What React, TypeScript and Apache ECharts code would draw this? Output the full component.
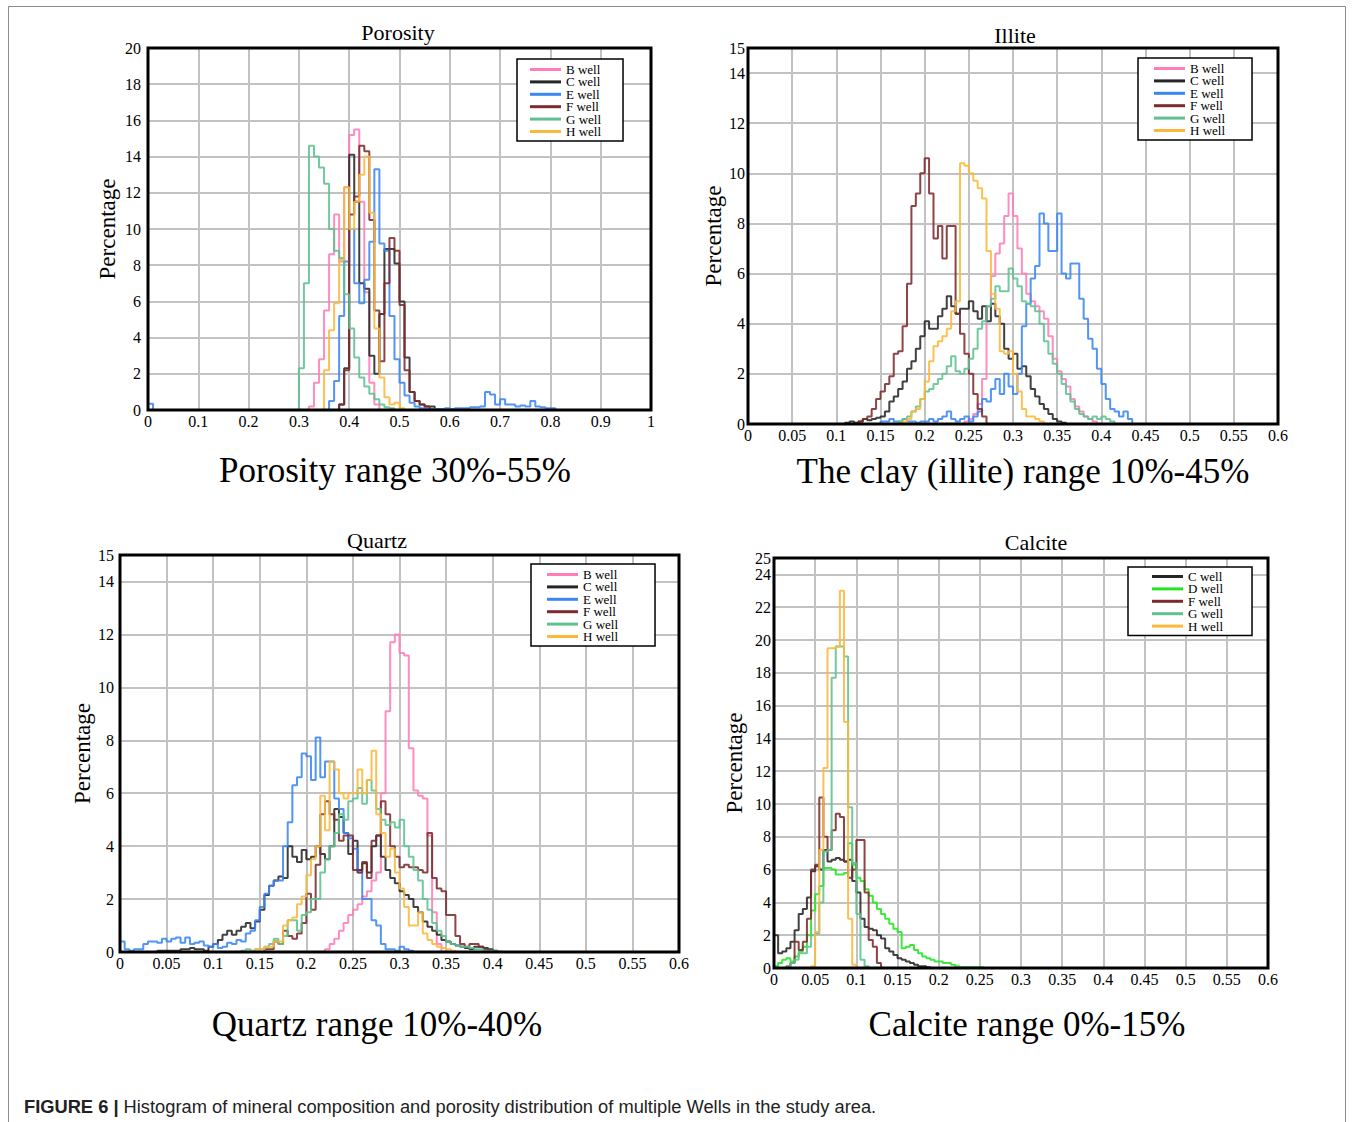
import React, { useEffect, useRef } from "react";
import * as echarts from "echarts";

const SERIF = "'Liberation Serif', 'Times New Roman', serif";
const SANS = "'Liberation Sans', Arial, sans-serif";
const GRID_LINE = "#c2c2c2";

// ---------- colours per well ----------
const wellColors: Record<string, string> = {
  "B well": "#ff7db9",
  "C well": "#262626",
  "D well": "#22e622",
  "E well": "#3a86f2",
  "F well": "#7c2a2c",
  "G well": "#5fc191",
  "H well": "#fcb83a",
};

const legendWells = ["B well", "C well", "E well", "F well", "G well", "H well"];
const calciteLegendWells = ["C well", "D well", "F well", "G well", "H well"];

// ---------- axis ticks ----------
const porosityXMax = 1;
const porosityXStep = 0.1;
const porosityYMax = 20;
const mineralXMax = 0.6;
const mineralXStep = 0.05;
const illiteYMax = 15;
const quartzYMax = 15;
const calciteYMax = 25;
const yStep = 2;

// ---------- Porosity histograms (bin 0.01) ----------
const porosityBin = 0.01;
const porosityBStart = 0.32;
const porosityB = [0.2, 1.5, 2.8, 5.5, 8.6, 10.8, 8.2, 12.3, 15.2, 15.5, 11.5, 6.5, 1.5, 0.3];
const porosityCStart = 0.38;
const porosityC = [0.3, 2.3, 14.1, 11.5, 7.0, 6.7, 3.0, 2.0, 5.3, 8.9, 8.9, 8.1, 6.0, 2.9, 1.0, 0.5, 0.3, 0.2, 0.2];
const porosityEStart = 0.36;
const porosityE = [
  0.5, 1.6, 5.2, 8.2, 10.0, 7.0, 5.9, 7.2, 9.3, 13.3, 9.2, 8.8, 5.2, 2.8, 1.5, 0.8, 0.4, 0.2,
  0.1, 0.05, 0.05, 0.05, 0.05, 0.1, 0.05, 0.1, 0.1, 0.1, 0.15, 0.15, 0.2, 1.0, 0.85, 0.3, 0.6,
  0.3, 0.3, 0.2, 0.25, 0.2, 0.5, 0.2, 0.15, 0.1, 0.1,
];
const porosityE0Start = 0;
const porosityE0 = [0.35];
const porosityFStart = 0.38;
const porosityF = [0.3, 2.2, 10.8, 11.8, 14.6, 14.3, 10.5, 5.5, 2.7, 7.0, 9.5, 8.8, 5.8, 2.2, 1.0, 0.5, 0.3, 0.2];
const porosityGStart = 0.3;
const porosityG = [2.3, 7.0, 14.6, 14.0, 13.4, 12.5, 10.0, 8.8, 8.4, 6.4, 4.5, 2.9, 1.8, 1.3, 0.9, 0.6, 0.3, 0.15, 0.1];
const porosityHStart = 0.35;
const porosityH = [2.2, 4.4, 5.9, 8.3, 12.3, 10.0, 11.5, 13.0, 14.0, 10.9, 4.5, 1.8, 0.7, 0.3, 0.4, 0.1];

// ---------- Illite histograms (bin 0.005) ----------
const mineralBin = 0.005;
const illiteBStart = 0.245;
const illiteB = [
  0.1, 0.2, 0.4, 0.8, 1.8, 4.7, 5.9, 6.8, 7.2, 8.3, 9.2, 8.3, 7.0, 6.0, 5.2, 4.9, 4.7, 4.5, 4.2,
  3.5, 2.6, 2.1, 1.8, 1.5, 1.0, 0.7, 0.5, 0.3, 0.2, 0.1,
];
const illiteCStart = 0.11;
const illiteC = [
  0.05, 0.1, 0.05, 0.1, 0.2, 0.15, 0.2, 0.25, 0.3, 0.5, 0.9, 1.1, 1.4, 1.7, 2.2, 2.5, 3.0, 3.5,
  4.1, 3.8, 3.8, 4.3, 4.6, 5.1, 4.7, 4.4, 4.6, 4.6, 4.9, 4.5, 4.2, 4.7, 4.1, 4.8, 4.3, 4.0, 3.0,
  2.6, 2.8, 2.2, 2.3, 1.9, 1.4, 1.1, 0.8, 0.6, 0.4, 0.2, 0.1, 0.05,
];
const illiteEStart = 0.15;
const illiteE = [
  0.1, 0.1, 0.2, 0.1, 0.1, 0.2, 0.1, 0.1, 0.05, 0.1, 0.1, 0.2, 0.1, 0.2, 0.3, 0.5, 0.2, 0.1, 0.2,
  0.3, 0.1, 0.3, 0.5, 1.0, 0.9, 1.4, 1.8, 1.2, 2.0, 1.5, 1.2, 2.0, 3.9, 4.8, 5.8, 6.3, 8.4, 8.0,
  6.9, 6.9, 8.4, 6.0, 5.8, 6.4, 6.4, 5.0, 4.2, 3.4, 3.0, 2.2, 1.6, 1.0, 0.6, 0.5, 0.3, 0.5, 0.2,
];
const illiteFStart = 0.125;
const illiteF = [
  0.1, 0.2, 0.3, 0.6, 1.0, 1.3, 1.6, 1.9, 2.8, 2.9, 3.9, 5.6, 8.7, 9.2, 10.0, 10.6, 9.2, 7.4,
  7.9, 6.6, 7.9, 7.9, 4.4, 3.6, 2.8, 2.0, 1.2, 0.6, 0.3,
];
const illiteGStart = 0.17;
const illiteG = [
  0.1, 0.2, 0.3, 0.5, 0.7, 1.0, 1.3, 1.4, 1.6, 1.8, 2.0, 2.3, 2.7, 2.1, 2.0, 2.2, 2.6, 3.0, 3.8,
  4.1, 4.7, 5.0, 5.5, 5.3, 5.3, 6.2, 5.8, 5.5, 4.9, 4.8, 4.7, 4.5, 4.0, 3.3, 2.8, 2.4, 2.0, 1.6,
  1.2, 0.9, 0.6, 0.4, 0.3, 0.2, 0.3, 0.2, 0.3, 0.2, 0.1,
];
const illiteHStart = 0.175;
const illiteH = [
  0.1, 0.2, 0.5, 0.6, 1.0, 1.7, 2.5, 3.1, 3.3, 3.5, 3.8, 4.5, 4.9, 10.4, 10.3, 10.0, 9.7, 9.4,
  9.0, 6.9, 5.2, 4.6, 2.9, 2.8, 2.9, 2.0, 1.3, 0.6, 0.3, 0.3, 0.2, 0.1,
];

// ---------- Quartz histograms (bin 0.005) ----------
const quartzBStart = 0.22;
const quartzB = [
  0.1, 0.3, 0.5, 0.8, 1.1, 1.4, 1.6, 1.8, 2.1, 2.3, 2.7, 3.0, 6.0, 9.1, 11.7, 12.0, 11.3, 11.2,
  7.7, 6.1, 5.9, 5.8, 4.4, 1.5, 0.3,
];
const quartzCStart = 0.04;
const quartzC = [
  0.05, 0.05, 0.05, 0.05, 0.05, 0.1, 0.1, 0.15, 0.1, 0.1, 0.05, 0.2, 0.3, 0.45, 0.65, 0.8, 0.65,
  0.8, 0.95, 1.1, 0.9, 1.15, 1.6, 2.15, 2.5, 2.7, 2.85, 2.8, 4.0, 3.6, 3.4, 3.85, 3.5, 3.6, 4.0,
  3.7, 3.5, 4.0, 5.4, 5.1, 4.5, 3.7, 4.2, 3.1, 3.35, 3.0, 4.0, 4.4, 3.6, 3.1, 2.8, 2.6, 2.3, 2.15,
  2.0, 1.7, 1.5, 1.15, 0.95, 0.8, 0.65, 0.45, 0.4, 0.3, 0.25, 0.2, 0.15, 0.1, 0.2, 0.2, 0.15, 0.1,
  0.05,
];
const quartzEStart = 0;
const quartzE = [
  0.4, 0.1, 0.05, 0.1, 0.1, 0.3, 0.4, 0.4, 0.35, 0.5, 0.4, 0.5, 0.55, 0.35, 0.55, 0.3, 0.35, 0.4,
  0.25, 0.2, 0.3, 0.15, 0.2, 0.35, 0.3, 0.45, 0.4, 0.7, 0.8, 1.2, 1.7, 2.2, 2.5, 2.7, 2.7, 4.0,
  4.9, 6.3, 6.6, 7.5, 7.4, 6.5, 8.1, 6.6, 7.2, 7.2, 5.8, 5.4, 4.5, 4.3, 3.9, 3.0, 2.0, 2.0, 1.2,
  1.0, 0.3, 0.1, 0.1, 0.05, 0.2, 0.1, 0.05,
];
const quartzFStart = 0.155;
const quartzF = [
  0.1, 0.1, 0.4, 0.3, 0.8, 0.6, 0.5, 0.7, 1.1, 2.2, 1.6, 3.3, 5.2, 5.7, 5.2, 5.0, 4.2, 4.4, 4.4,
  3.1, 3.0, 3.4, 2.8, 4.2, 4.4, 5.7, 5.2, 4.0, 3.6, 3.2, 3.3, 3.2, 3.2, 3.1, 3.0, 4.5, 2.8, 2.4,
  2.3, 1.4, 1.4, 0.6, 0.3, 0.2, 0.3, 0.3, 0.2, 0.1,
];
const quartzGStart = 0.13;
const quartzG = [
  0.05, 0.1, 0.05, 0.1, 0.1, 0.2, 0.3, 0.5, 0.3, 0.6, 1.2, 1.2, 0.8, 1.4, 1.5, 2.0, 2.0, 3.0, 3.5,
  4.0, 4.5, 5.2, 5.0, 5.7, 5.8, 6.2, 5.6, 6.5, 6.1, 5.4, 5.0, 4.8, 4.9, 4.7, 5.0, 4.0, 3.6, 3.1,
  2.7, 2.0, 1.6, 1.1, 0.8, 0.6, 0.4, 0.3, 0.25, 0.2, 0.2, 0.15, 0.1, 0.1, 0.05, 0.05, 0.05, 0.02,
];
const quartzHStart = 0.14;
const quartzH = [
  0.05, 0.1, 0.1, 0.2, 0.2, 0.4, 0.4, 1.0, 1.2, 1.3, 1.8, 2.1, 2.9, 3.5, 4.0, 5.9, 4.6, 7.2, 6.9,
  6.0, 5.8, 6.0, 6.0, 6.9, 6.0, 6.5, 7.6, 5.2, 4.5, 3.6, 3.9, 3.0, 2.4, 1.7, 1.0, 1.0, 1.5, 0.7,
  0.45, 0.3, 0.2, 0.15, 0.1, 0.05,
];

// ---------- Calcite histograms (bin 0.005) ----------
const calciteCStart = 0;
const calciteC = [
  2.0, 0.9, 1.0, 1.2, 1.6, 2.3, 3.3, 3.6, 4.3, 5.9, 6.2, 6.0, 7.2, 6.5, 6.6, 6.7, 6.6, 6.5, 6.6,
  5.3, 4.6, 3.0, 2.5, 2.4, 2.3, 2.0, 1.8, 1.2, 1.0, 0.8, 0.6, 0.5, 0.4, 0.3, 0.2, 0.1, 0.1, 0.05,
];
const calciteDStart = 0;
const calciteD = [
  0.1, 0.3, 0.5, 0.6, 0.4, 0.7, 1.0, 1.3, 2.0, 3.5, 4.5, 5.0, 6.1, 6.1, 6.0, 5.7, 5.7, 5.8, 7.6,
  6.3, 5.5, 5.3, 4.8, 4.4, 4.0, 3.6, 3.3, 3.0, 2.7, 2.4, 2.2, 1.2, 1.3, 1.4, 1.1, 0.9, 0.7, 0.6,
  0.5, 0.4, 0.4, 0.3, 0.3, 0.2, 0.1, 0.05, 0.05, 0.05, 0.05, 0.05, 0.03,
];
const calciteFStart = 0.015;
const calciteF = [
  0.1, 0.3, 1.6, 1.1, 1.6, 3.0, 6.0, 6.3, 10.4, 8.0, 7.2, 8.4, 9.4, 9.2, 6.5, 5.5, 6.0, 7.8, 7.8,
  4.6, 1.7, 1.3, 0.3,
];
const calciteGStart = 0.015;
const calciteG = [0.1, 0.3, 0.5, 0.9, 0.9, 1.3, 2.0, 2.1, 4.0, 7.1, 7.2, 17.7, 19.6, 19.6, 19.0, 9.8, 6.4, 3.3, 0.5, 0.1];
const calciteHStart = 0.045;
const calciteH = [0.1, 2.2, 7.2, 12.2, 19.5, 19.5, 19.6, 23.0, 15.0, 3.0, 0.2];

// ---------- texts ----------
const panelTitles = ["Porosity", "Illite", "Quartz", "Calcite"];
const panelRanges = [
  "Porosity range 30%-55%",
  "The clay (illite) range 10%-45%",
  "Quartz range 10%-40%",
  "Calcite range 0%-15%",
];
const yAxisName = "Percentage";
const captionBold = "FIGURE 6 |";
const captionText = " Histogram of mineral composition and porosity distribution of multiple Wells in the study area.";

// ---------- helpers ----------
function histPoints(start: number, bin: number, values: number[]) {
  const pts: number[][] = [[start, 0]];
  values.forEach((v, i) => pts.push([+(start + i * bin).toFixed(4), v]));
  pts.push([+(start + values.length * bin).toFixed(4), 0]);
  return pts;
}

function hist(name: string, gi: number, start: number, bin: number, values: number[]) {
  const color = wellColors[name];
  return {
    type: "line",
    name,
    xAxisIndex: gi,
    yAxisIndex: gi,
    step: "end",
    data: histPoints(start, bin, values),
    symbol: "none",
    showSymbol: false,
    silent: true,
    lineStyle: { color, width: 2, opacity: 0.88 },
    itemStyle: { color },
    z: 3,
  };
}

// ---------- layout ----------
const gridRects = [
  { left: 148, top: 48, width: 503, height: 362 },
  { left: 748, top: 48, width: 530, height: 376 },
  { left: 120, top: 555, width: 559, height: 397 },
  { left: 774, top: 558, width: 494, height: 410 },
];
const yLabelMargins = [7, 3, 6, 3];
const yNameGaps = [29, 22, 22, 28];
const titlePos = [
  [398, 32],
  [1015, 35],
  [377, 540],
  [1036, 542],
];
const rangePos = [
  [395, 470],
  [1023, 471],
  [377, 1024],
  [1027, 1024],
];
const legendPos = [
  [517, 59],
  [1138, 58],
  [531, 564],
  [1128, 567],
];
const legendPadding = [
  [4, 22, 3, 13],
  [4, 27, 3, 16],
  [4, 37, 3, 16],
  [3, 29, 3, 24],
];

function buildOption() {
  const xMax = [porosityXMax, mineralXMax, mineralXMax, mineralXMax];
  const xStep = [porosityXStep, mineralXStep, mineralXStep, mineralXStep];
  const yMax = [porosityYMax, illiteYMax, quartzYMax, calciteYMax];

  const grid = gridRects.map((r) => ({
    ...r,
    show: false,
    containLabel: false,
  }));

  const xAxis = gridRects.map((_, i) => ({
    type: "value",
    gridIndex: i,
    min: 0,
    max: xMax[i],
    interval: xStep[i],
    axisLine: { show: false },
    axisTick: { show: false },
    axisLabel: {
      color: "#000",
      fontFamily: SERIF,
      fontSize: 16,
      margin: 3,
      hideOverlap: false,
    },
    splitLine: { show: true, lineStyle: { color: GRID_LINE, width: 2 } },
  }));

  const yAxis = gridRects.map((_, i) => ({
    type: "value",
    gridIndex: i,
    min: 0,
    max: yMax[i],
    interval: yStep,
    name: yAxisName,
    nameLocation: "middle",
    nameGap: yNameGaps[i],
    nameTextStyle: { fontFamily: SERIF, fontSize: 23, color: "#000" },
    axisLine: { show: false },
    axisTick: { show: false },
    axisLabel: {
      color: "#000",
      fontFamily: SERIF,
      fontSize: 16,
      margin: yLabelMargins[i],
      hideOverlap: false,
    },
    splitLine: { show: true, lineStyle: { color: GRID_LINE, width: 2 } },
  }));

  const title = [
    ...panelTitles.map((t, i) => ({
      text: t,
      left: titlePos[i][0],
      top: titlePos[i][1],
      textAlign: "center",
      textVerticalAlign: "middle",
      padding: 0,
      textStyle: { fontFamily: SERIF, fontSize: 22, fontWeight: "normal", color: "#000" },
    })),
    ...panelRanges.map((t, i) => ({
      text: t,
      left: rangePos[i][0],
      top: rangePos[i][1],
      textAlign: "center",
      textVerticalAlign: "middle",
      padding: 0,
      textStyle: { fontFamily: SERIF, fontSize: 35, fontWeight: "normal", color: "#000" },
    })),
  ];

  const legend = legendPos.map((p, i) => ({
    left: p[0],
    top: p[1],
    orient: "vertical",
    data: i === 3 ? calciteLegendWells : legendWells,
    icon: "rect",
    itemWidth: 31,
    itemHeight: 3,
    itemGap: -0.6,
    itemTextGap: 9,
    padding: legendPadding[i],
    borderColor: "#000",
    borderWidth: 1.5,
    borderRadius: 0,
    backgroundColor: "#fff",
    selectedMode: false,
    z: 20,
    textStyle: { fontFamily: SERIF, fontSize: 13, color: "#000" },
  }));

  const series = [
    hist("B well", 0, porosityBStart, porosityBin, porosityB),
    hist("C well", 0, porosityCStart, porosityBin, porosityC),
    hist("E well", 0, porosityEStart, porosityBin, porosityE),
    hist("E well", 0, porosityE0Start, porosityBin, porosityE0),
    hist("F well", 0, porosityFStart, porosityBin, porosityF),
    hist("G well", 0, porosityGStart, porosityBin, porosityG),
    hist("H well", 0, porosityHStart, porosityBin, porosityH),

    hist("B well", 1, illiteBStart, mineralBin, illiteB),
    hist("C well", 1, illiteCStart, mineralBin, illiteC),
    hist("E well", 1, illiteEStart, mineralBin, illiteE),
    hist("F well", 1, illiteFStart, mineralBin, illiteF),
    hist("G well", 1, illiteGStart, mineralBin, illiteG),
    hist("H well", 1, illiteHStart, mineralBin, illiteH),

    hist("B well", 2, quartzBStart, mineralBin, quartzB),
    hist("C well", 2, quartzCStart, mineralBin, quartzC),
    hist("E well", 2, quartzEStart, mineralBin, quartzE),
    hist("F well", 2, quartzFStart, mineralBin, quartzF),
    hist("G well", 2, quartzGStart, mineralBin, quartzG),
    hist("H well", 2, quartzHStart, mineralBin, quartzH),

    hist("C well", 3, calciteCStart, mineralBin, calciteC),
    hist("D well", 3, calciteDStart, mineralBin, calciteD),
    hist("F well", 3, calciteFStart, mineralBin, calciteF),
    hist("G well", 3, calciteGStart, mineralBin, calciteG),
    hist("H well", 3, calciteHStart, mineralBin, calciteH),
  ];

  const plotFrames = gridRects.map((r) => ({
    type: "rect",
    silent: true,
    z: 50,
    shape: { x: r.left, y: r.top, width: r.width, height: r.height },
    style: { fill: "none", stroke: "#000", lineWidth: 3 },
  }));

  const graphic = [
    {
      type: "rect",
      silent: true,
      shape: { x: 8.5, y: 6.5, width: 1337, height: 1300 },
      style: { fill: "none", stroke: "#8c8c8c", lineWidth: 1 },
    },
    ...plotFrames,
    {
      type: "text",
      silent: true,
      x: 24,
      y: 1106,
      style: {
        text: "{b|" + captionBold + "}" + captionText,
        fontFamily: SANS,
        fontSize: 18.3,
        fill: "#222",
        verticalAlign: "middle",
        rich: {
          b: { fontFamily: SANS, fontSize: 18.3, fontWeight: "bold", fill: "#222" },
        },
      },
    },
  ];

  return {
    animation: false,
    backgroundColor: "#fff",
    textStyle: { fontFamily: SERIF },
    title,
    legend,
    grid,
    xAxis,
    yAxis,
    series,
    graphic,
  };
}

export default function App() {
  const ref = useRef<HTMLDivElement>(null);
  useEffect(() => {
    if (!ref.current) return;
    const chart = echarts.init(ref.current, null, { renderer: "svg" });
    chart.setOption(buildOption() as any);
    return () => chart.dispose();
  }, []);
  return (
    <div
      ref={ref}
      style={{ position: "absolute", left: 0, top: 0, width: 1354, height: 1122, background: "#fff" }}
    />
  );
}
